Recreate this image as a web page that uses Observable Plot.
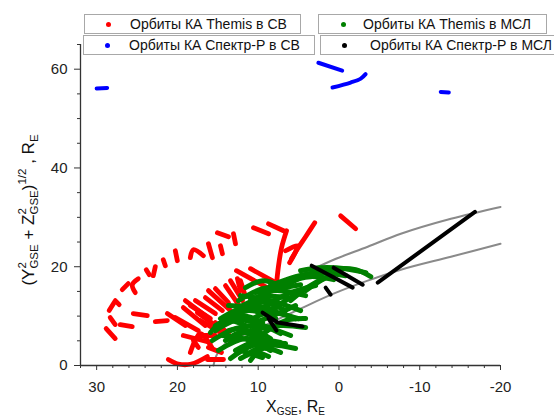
<!DOCTYPE html>
<html>
<head>
<meta charset="utf-8">
<script src="https://cdn.jsdelivr.net/npm/d3@7"></script>
<script src="https://cdn.jsdelivr.net/npm/@observablehq/plot@0.6"></script>
<style>
  html, body { margin: 0; padding: 0; background: #fff; overflow: hidden; }
  #wrap { position: relative; width: 554px; height: 418px; font-family: "Liberation Sans", Arial, sans-serif; }
  .lg { position: absolute; height: 20px; border: 1px solid #a8a8a8; background: #fff; box-sizing: border-box;
        font-size: 14px; line-height: 18px; white-space: nowrap; color: #111; }
  .lg i { position: absolute; top: 7px; width: 5px; height: 5px; border-radius: 50%; }
  .lg span { position: absolute; top: 0; }
</style>
</head>
<body>
<div id="wrap"></div>
<script>
// Orbit segments, each a list of [X_GSE, (Y²+Z²)^1/2] points in Earth radii.

// Themis orbits in the solar wind (red)
const themisSW = [
  [[15.05, 26.87], [13.68, 26.07]],
  [[16.16, 24.65], [15.67, 21.83]],
  [[18.4, 21.83], [18.02, 23.44], [16.79, 22.23]],
  [[20.26, 23.24], [20.01, 21.22]],
  [[21.75, 21.42], [21.5, 20.21]],
  [[22.74, 20.01], [22.99, 18.19]],
  [[23.86, 19.4], [23.48, 18.39]],
  [[24.85, 17.58], [25.59, 16.37], [25.22, 14.76]],
  [[26.09, 16.57], [26.83, 15.36]],
  [[27.7, 13.14], [27.21, 12.33]],
  [[27.83, 12.74], [28.45, 11.12]],
  [[28.32, 9.71], [27.7, 8.29]],
  [[28.82, 7.48], [27.7, 5.46]],
  [[27.08, 8.29], [25.59, 7.89]],
  [[25.47, 10.51], [23.73, 10.11]],
  [[22.74, 8.9], [21.25, 9.1]],
  [[21.25, 10.51], [19.02, 8.09]],
  [[20.26, 9.71], [17.41, 7.08]],
  [[19.27, 11.73], [16.54, 8.09]],
  [[18.4, 12.13], [15.92, 9.5]],
  [[17.78, 13.14], [15.3, 10.51]],
  [[16.54, 13.75], [14.43, 11.12]],
  [[16.16, 15.16], [13.43, 11.12]],
  [[15.3, 15.56], [13.68, 12.74]],
  [[14.05, 16.17], [12.44, 12.33]],
  [[12.19, 17.18], [11.57, 13.95]],
  [[17.53, 10.72], [14.43, 7.08]],
  [[17.16, 9.1], [14.05, 6.07]],
  [[19.02, 13.14], [16.54, 10.11]],
  [[13.43, 17.18], [11.94, 13.14]],
  [[19.27, 6.07], [15.92, 4.66]],
  [[18.4, 2.64], [17.16, 6.47], [15.67, 3.44]],
  [[21.13, 1.22], [19.89, 0.3], [18.27, 0.3], [16.29, 1.83]],
  [[18.02, 5.06], [17.41, 3.65]],
  [[16.16, 3.65], [14.55, 2.64]],
  [[16.29, 1.22], [14.3, 1.22]],
  [[17.41, 6.07], [15.3, 6.07]],
  [[15.3, 8.7], [13.68, 6.47]],
  [[10.58, 27.89], [8.72, 26.67]],
  [[8.72, 28.69], [6.86, 27.28]],
  [[13.06, 26.67], [12.81, 24.65]],
  [[14.67, 24.25], [14.43, 22.63]],
  [[6.49, 27.28], [7.11, 23.85], [7.48, 20.21], [7.73, 16.57]],
  [[6.61, 23.24], [5.12, 24.25], [6.11, 20.82]],
  [[3.0, 28.9], [4.13, 26.07], [5.12, 23.64], [5.87, 21.62]],
  [[-0.21, 30.31], [-2.07, 27.68]],
  [[12.69, 19.2], [8.22, 15.16]],
  [[10.95, 19.6], [7.6, 16.57]],
  [[12.57, 17.58], [12.19, 15.16]]
];

// Themis orbits in the magnetosheath (green)
const themisMSL = [
  [[6.61, 16.17], [3.51, 18.59], [0.41, 19.6], [-2.07, 19.4], [-3.94, 17.99]],
  [[9.46, 14.55], [6.61, 16.78], [3.51, 17.99], [0.66, 17.38]],
  [[10.95, 13.14], [7.85, 15.36], [4.75, 16.37]],
  [[12.19, 11.93], [9.09, 13.95], [5.99, 13.54]],
  [[13.18, 10.72], [9.96, 12.94], [6.61, 11.12]],
  [[11.57, 15.77], [9.46, 17.18], [7.23, 16.17]],
  [[14.43, 8.7], [11.2, 11.12], [7.85, 9.5]],
  [[15.3, 7.08], [11.95, 9.5], [8.72, 7.48]],
  [[15.67, 5.06], [12.44, 7.48], [9.46, 5.46]],
  [[14.92, 3.04], [11.57, 5.46], [8.22, 4.05]],
  [[13.43, 1.42], [10.7, 4.05], [6.61, 4.45]],
  [[10.95, 1.02], [9.46, 3.44], [7.23, 2.64]],
  [[13.68, 12.13], [9.71, 11.52], [5.0, 9.5]],
  [[12.19, 14.15], [8.47, 13.14], [4.75, 11.12]],
  [[10.7, 7.08], [7.23, 8.09], [4.13, 7.69]],
  [[14.05, 9.5], [10.33, 8.7], [7.23, 6.47]],
  [[4.75, 19.2], [2.27, 19.81], [-0.83, 19.6], [-3.32, 18.8]],
  [[4.13, 15.16], [2.27, 17.18], [0.41, 18.8]],
  [[5.99, 13.14], [4.13, 15.56], [2.02, 17.58]],
  [[8.72, 10.72], [6.61, 13.14], [4.75, 14.76]],
  [[14.43, 6.07], [10.95, 5.06], [8.47, 3.04]],
  [[9.71, 9.1], [7.23, 10.72], [5.37, 12.13]],
  [[12.19, 3.04], [9.46, 1.62]],
  [[14.05, 5.06], [12.19, 6.67], [10.33, 5.86]],
  [[15.3, 8.09], [12.19, 10.11], [9.46, 8.7]],
  [[14.67, 9.5], [10.95, 12.13], [7.85, 11.12]],
  [[12.81, 3.04], [9.96, 5.06], [7.23, 4.65]],
  [[13.68, 7.08], [10.33, 8.09], [5.99, 6.07]],
  [[11.57, 2.03], [9.09, 4.05], [5.37, 3.44]],
  [[10.33, 14.76], [7.23, 15.16], [4.13, 14.15]],
  [[12.44, 13.14], [9.46, 15.56], [5.99, 16.17]],
  [[15.92, 6.67], [14.05, 9.1], [11.57, 8.09]],
  [[9.71, 6.07], [6.61, 9.1], [4.13, 9.5]],
  [[11.2, 9.1], [8.47, 10.72], [5.37, 9.5]],
  [[9.09, 12.13], [5.99, 14.76], [2.89, 16.17]],
  [[13.43, 5.06], [10.95, 7.08], [8.47, 5.46]],
  [[12.19, 1.42], [10.33, 2.64], [8.72, 1.83]],
  [[8.47, 16.17], [5.37, 17.99], [2.27, 18.8], [-0.83, 18.19]]
];

// Spektr-R orbits in the solar wind (blue)
const spektrSW = [
  [[30.0, 56.1], [28.7, 56.2]],
  [[2.55, 61.3], [-0.4, 59.7]],
  [[0.8, 56.3], [-1.45, 57.3], [-2.7, 58.1], [-3.3, 59.0]],
  [[-12.6, 55.4], [-13.6, 55.3]]
];

// Spektr-R orbits in the magnetosheath (black)
const spektrMSL = [
  [[3.38, 20.21], [1.03, 18.19], [-1.7, 15.77]],
  [[0.66, 19.81], [-2.94, 16.37]],
  [[1.65, 15.77], [1.03, 14.35]],
  [[-4.8, 16.78], [-16.84, 31.12]],
  [[9.46, 10.72], [7.6, 8.7], [4.5, 7.89]],
  [[8.72, 9.5], [7.73, 7.08]]
];

// Boundary model curves (grey)
const boundaryOuter = [[-20, 32.1], [-13.86, 29.7], [-7.66, 26.67], [-3.56, 24.05], [0.66, 21.42], [3.14, 19.6], [5.99, 17.38], [8.47, 15.16]];
const boundaryInner = [[-20, 24.64], [-13.86, 22.03], [-7.66, 19.4], [-3.56, 17.18], [0.66, 14.55], [4.75, 11.52], [9.46, 7.89], [12.81, 5.46], [14.05, 4.45], [15.17, 2.03], [15.54, 0.01]];

// Axis ticks
const xMajor = [30, 20, 10, 0, -10, -20];
const xMinor = [32, 28, 26, 24, 22, 18, 16, 14, 12, 8, 6, 4, 2, -2, -4, -6, -8, -12, -14, -16, -18];
const yMajor = [0, 20, 40, 60];
const yMinor = [5, 10, 15, 25, 30, 35, 45, 50, 55, 65];

const legendItems = [
  {label: "Орбиты КА Themis в СВ", color: "#ff0000", left: 84, top: 14, width: 217, dot: 21, text: 45},
  {label: "Орбиты КА Спектр-Р в СВ", color: "#0000ff", left: 83, top: 35, width: 232, dot: 21, text: 45},
  {label: "Орбиты КА Themis в МСЛ", color: "#008000", left: 318, top: 14, width: 229, dot: 22, text: 44},
  {label: "Орбиты КА Спектр-Р в МСЛ", color: "#000000", left: 320, top: 35, width: 260, dot: 21, text: 49}
];

const toRows = (segs, key) => segs.flatMap((s, i) => s.map(([x, y]) => ({x, y, seg: key + i})));

const orbitStyle = {x: "x", y: "y", z: "seg", strokeWidth: 4.8, strokeLinecap: "round", strokeLinejoin: "round", curve: "catmull-rom"};

const chart = Plot.plot({
  width: 554,
  height: 418,
  marginTop: 44,
  marginBottom: 53,
  marginLeft: 80,
  marginRight: 54,
  x: {domain: [32, -20]},
  y: {domain: [0, 65]},
  style: {fontFamily: "Liberation Sans, Arial, sans-serif", fontSize: "15px", color: "#222", background: "transparent"},
  marks: [
    Plot.line(toRows([boundaryOuter, boundaryInner], "b"), {x: "x", y: "y", z: "seg", stroke: "#8a8a8a", strokeWidth: 2, curve: "catmull-rom"}),
    Plot.line(toRows(themisSW, "r"), {...orbitStyle, stroke: "#ff0000"}),
    Plot.line(toRows(themisMSL, "g"), {...orbitStyle, stroke: "#008000", strokeWidth: 5}),
    Plot.line(toRows(spektrMSL, "k"), {...orbitStyle, stroke: "#000000", strokeWidth: 4, curve: "linear"}),
    Plot.line(toRows(spektrSW, "s"), {...orbitStyle, stroke: "#0000ff", strokeWidth: 4}),
    Plot.ruleY([0], {stroke: "#333", strokeWidth: 1.3}),
    Plot.ruleX([32], {stroke: "#333", strokeWidth: 1.3}),
    Plot.axisX(xMajor, {tickSize: 5, tickPadding: 11, tickFormat: d => String(d), stroke: "#333", label: null}),
    Plot.axisX(xMinor, {tickSize: 3, tickFormat: () => "", stroke: "#333", label: null}),
    Plot.axisY(yMajor, {tickSize: 6, tickPadding: 7, tickFormat: d => String(d), stroke: "#333", label: null}),
    Plot.axisY(yMinor, {tickSize: 3, tickFormat: () => "", stroke: "#333", label: null})
  ]
});

const wrap = document.getElementById("wrap");
wrap.appendChild(chart);

// Axis titles with sub/superscripts
const svg = d3.select(chart);
const xt = svg.append("text")
  .attr("x", 266).attr("y", 412)
  .attr("text-anchor", "start")
  .attr("font-size", 16).attr("fill", "#111")
  .attr("font-family", "Liberation Sans, Arial, sans-serif");
xt.append("tspan").text("X");
xt.append("tspan").attr("font-size", 10).attr("dy", 3).text("GSE");
xt.append("tspan").attr("dy", -3).text(", R");
xt.append("tspan").attr("font-size", 10).attr("dy", 3).text("E");

const yt = svg.append("text")
  .attr("transform", "translate(34,210) rotate(-90)")
  .attr("text-anchor", "middle")
  .attr("font-size", 17).attr("fill", "#111")
  .attr("font-family", "Liberation Sans, Arial, sans-serif");
yt.append("tspan").text("(Y");
yt.append("tspan").attr("font-size", 11.5).attr("dy", -8).text("2");
yt.append("tspan").attr("font-size", 11.5).attr("dx", -6.4).attr("dy", 12).text("GSE");
yt.append("tspan").attr("dy", -4).text(" + Z");
yt.append("tspan").attr("font-size", 11.5).attr("dy", -8).text("2");
yt.append("tspan").attr("font-size", 11.5).attr("dx", -6.4).attr("dy", 12).text("GSE");
yt.append("tspan").attr("dy", -4).text(")");
yt.append("tspan").attr("font-size", 11.5).attr("dy", -8).text("1/2");
yt.append("tspan").attr("dy", 8).text(" , R");
yt.append("tspan").attr("font-size", 11.5).attr("dy", 4).text("E");

// Legend boxes
for (const it of legendItems) {
  const box = document.createElement("div");
  box.className = "lg";
  box.style.left = it.left + "px";
  box.style.top = it.top + "px";
  box.style.width = it.width + "px";
  const dot = document.createElement("i");
  dot.style.left = it.dot + "px";
  dot.style.background = it.color;
  const txt = document.createElement("span");
  txt.style.left = it.text + "px";
  txt.textContent = it.label;
  box.appendChild(dot);
  box.appendChild(txt);
  wrap.appendChild(box);
}
</script>
</body>
</html>
